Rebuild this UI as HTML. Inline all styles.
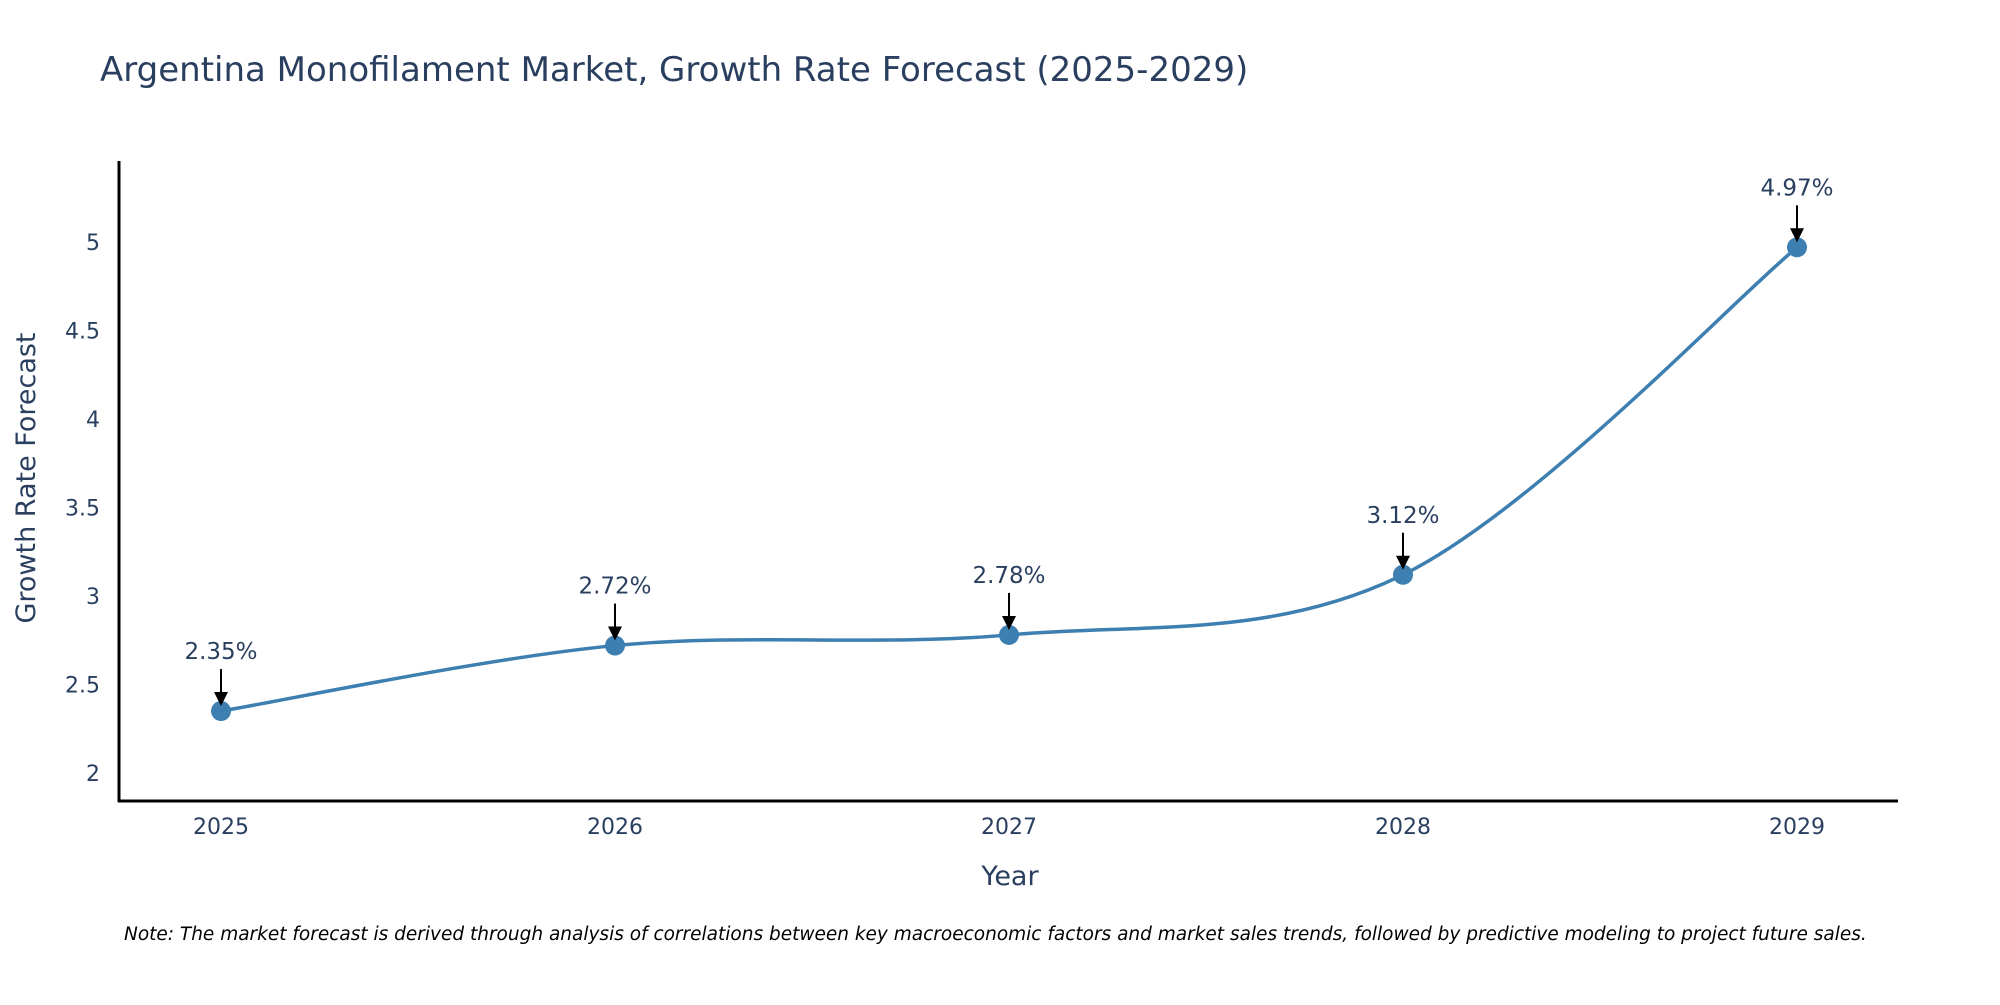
<!DOCTYPE html>
<html><head><meta charset="utf-8"><style>
body{margin:0;background:#fff;}
svg text{font-family:"DejaVu Sans","Liberation Sans",sans-serif;}
</style></head><body>
<svg id="chart" width="2000" height="1000" xmlns="http://www.w3.org/2000/svg">
<text x="100" y="81" font-size="34" fill="#2a3f5f">Argentina Monofilament Market, Growth Rate Forecast (2025-2029)</text>
<g id="yticks"></g>
<g id="xticks"></g>
<line x1="119" y1="161" x2="119" y2="802" stroke="#000" stroke-width="3"/>
<line x1="118" y1="801" x2="1898" y2="801" stroke="#000" stroke-width="3"/>
<text x="1010" y="885" font-size="27" fill="#2a3f5f" text-anchor="middle">Year</text>
<text transform="translate(35,478) rotate(-90)" font-size="27" fill="#2a3f5f" text-anchor="middle">Growth Rate Forecast</text>
<path id="line" fill="none" stroke="#3d7fb0" stroke-width="3.5"/>
<g id="marks"></g>
<text x="124" y="940" font-size="18.5" font-style="italic" fill="#000">Note: The market forecast is derived through analysis of correlations between key macroeconomic factors and market sales trends, followed by predictive modeling to project future sales.</text>
</svg>
<script>
const years = ["2025","2026","2027","2028","2029"];
const values = [2.35, 2.72, 2.78, 3.12, 4.97];
const yTicks = [2, 2.5, 3, 3.5, 4, 4.5, 5];
const NS = "http://www.w3.org/2000/svg";
function xPos(i){return 221 + i*394;}
function yPos(v){return 773 - (v-2)*177;}
function mk(tag, attrs, parent){const e=document.createElementNS(NS,tag);for(const k in attrs)e.setAttribute(k,attrs[k]);parent.appendChild(e);return e;}
const yt=document.getElementById('yticks');
yTicks.forEach(t=>{const e=mk('text',{x:100,y:yPos(t)+8,'font-size':22,fill:'#2a3f5f','text-anchor':'end'},yt);e.textContent=String(t);

});
const xt=document.getElementById('xticks');
years.forEach((y,i)=>{const e=mk('text',{x:xPos(i),y:834,'font-size':22,fill:'#2a3f5f','text-anchor':'middle'},xt);e.textContent=y;

});
const pts=values.map((v,i)=>[xPos(i),yPos(v)]);
let d=`M${pts[0][0]},${pts[0][1]}`;
for(let i=0;i<pts.length-1;i++){const p0=pts[Math.max(0,i-1)],p1=pts[i],p2=pts[i+1],p3=pts[Math.min(pts.length-1,i+2)];const s=1/6;
d+=` C${p1[0]+(p2[0]-p0[0])*s},${p1[1]+(p2[1]-p0[1])*s} ${p2[0]-(p3[0]-p1[0])*s},${p2[1]-(p3[1]-p1[1])*s} ${p2[0]},${p2[1]}`;}
document.getElementById('line').setAttribute('d',d);
const g=document.getElementById('marks');
pts.forEach((p,i)=>{
const c=mk('circle',{cx:p[0],cy:p[1],r:10,fill:'#3d7fb0'},g);


const l=mk('line',{x1:p[0],y1:p[1]-42,x2:p[0],y2:p[1]-18,stroke:'#000','stroke-width':2},g);


const a=mk('polygon',{points:`${p[0]-7},${p[1]-19} ${p[0]+7},${p[1]-19} ${p[0]},${p[1]-5}`,fill:'#000'},g);


const t=mk('text',{x:p[0],y:p[1]-52,'font-size':23,fill:'#2a3f5f','text-anchor':'middle'},g);t.textContent=values[i].toFixed(2)+'%';


});
</script>
</body></html>
